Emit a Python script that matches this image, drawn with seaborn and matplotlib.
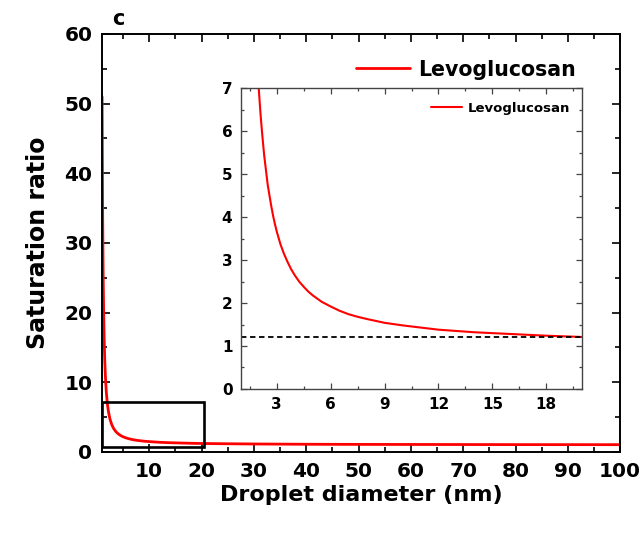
import matplotlib
matplotlib.use("Agg")
import matplotlib.pyplot as plt
from matplotlib.patches import Rectangle
from matplotlib.ticker import MultipleLocator
import pandas as pd
import seaborn as sns

# values
diameter_nm = [1.0, 1.1, 1.2, 1.3, 1.4, 1.5, 1.6, 1.7, 1.8, 1.9, 2.0, 2.1, 2.2, 2.3,
               2.4, 2.5, 2.6, 2.7, 2.8, 2.9, 3.0, 3.2, 3.4, 3.6, 3.8, 4.0, 4.25, 4.5,
               4.75, 5.0, 5.5, 6.0, 6.5, 7.0, 7.5, 8.0, 9.0, 10.0, 11.0, 12.0, 13.0,
               14.0, 16.0, 18.0, 20.0, 25.0, 30.0, 40.0, 50.0, 60.0, 70.0, 80.0,
               90.0, 100.0]
saturation = [51.0, 35.0, 25.8, 20.1, 16.2, 13.5, 11.4, 9.9, 8.7, 7.8, 7.0, 6.4, 5.9,
              5.45, 5.1, 4.75, 4.5, 4.25, 4.03, 3.84, 3.67, 3.38, 3.15, 2.96, 2.79,
              2.65, 2.5, 2.38, 2.27, 2.18, 2.03, 1.92, 1.82, 1.74, 1.68, 1.63, 1.54,
              1.48, 1.43, 1.38, 1.35, 1.32, 1.28, 1.24, 1.21, 1.17, 1.14, 1.10, 1.08,
              1.07, 1.06, 1.05, 1.045, 1.04]
series_name = "Levoglucosan"
reference_level = 1.2

df = pd.DataFrame({"d": diameter_nm, "S": saturation, "series": series_name})

sns.set_theme(style="ticks")
plt.rcParams["font.family"] = ["DejaVu Sans"]
plt.rcParams.update({
    "font.weight": "bold",
    "text.color": "black",
    "axes.labelcolor": "black",
    "xtick.color": "black",
    "ytick.color": "black",
})

fig = plt.figure(figsize=(6.42, 5.38), dpi=100)
ax = fig.add_axes([0.159, 0.160, 0.807, 0.777])

sns.lineplot(data=df, x="d", y="S", hue="series", palette=["#ff0000"],
             linewidth=2.0, ax=ax, legend=True)
ax.set_xlim(1, 100)
ax.set_ylim(0, 60)
ax.xaxis.set_minor_locator(MultipleLocator(5))
ax.yaxis.set_major_locator(MultipleLocator(10))
ax.yaxis.set_minor_locator(MultipleLocator(5))
ax.set_xticks(range(10, 101, 10))
ax.tick_params(which="both", direction="in", top=True, right=True, width=1.2)
ax.tick_params(which="major", length=6, labelsize=14.5, pad=7)
ax.tick_params(which="minor", length=3.5)
for lbl in ax.get_xticklabels() + ax.get_yticklabels():
    lbl.set_fontweight("bold")
for sp in ax.spines.values():
    sp.set_linewidth(1.4)
    sp.set_color("black")
ax.set_xlabel("Droplet diameter (nm)", fontsize=16, fontweight="bold", labelpad=3)
ax.set_ylabel("Saturation ratio", fontsize=17, fontweight="bold", labelpad=10)
ax.legend(loc="upper right", bbox_to_anchor=(0.93, 0.958), frameon=False,
          handlelength=2.6, handletextpad=0.4, borderaxespad=0.0,
          prop={"weight": "bold", "size": 14.8})
ax.text(0.175, 0.947, "c", transform=fig.transFigure, fontsize=15,
        fontweight="bold", ha="left", va="bottom")

# box marking the zoomed region
ax.add_patch(Rectangle((1, 0.65), 19.4, 6.55, fill=False, edgecolor="black",
                       linewidth=1.9, zorder=5))

# inset
ins = fig.add_axes([0.375, 0.277, 0.532, 0.559])
sns.lineplot(data=df, x="d", y="S", hue="series", palette=["#ff0000"],
             linewidth=1.5, ax=ins, legend=True)
ins.axhline(reference_level, color="black", linestyle="--", linewidth=1.3,
            dashes=(3, 2))
ins.set_xlim(1, 20)
ins.set_ylim(0, 7)
ins.xaxis.set_minor_locator(MultipleLocator(1.5))
ins.yaxis.set_major_locator(MultipleLocator(1))
ins.yaxis.set_minor_locator(MultipleLocator(0.5))
ins.set_xticks(range(3, 19, 3))
ins.tick_params(which="both", direction="in", top=True, right=True, width=0.9,
                color="#444444", labelcolor="black")
ins.tick_params(which="major", length=4, labelsize=11, pad=6)
ins.tick_params(which="minor", length=2.5)
for lbl in ins.get_xticklabels() + ins.get_yticklabels():
    lbl.set_fontweight("bold")
for sp in ins.spines.values():
    sp.set_linewidth(1.0)
    sp.set_color("#444444")
ins.set_xlabel("")
ins.set_ylabel("")
ins.legend(loc="upper right", bbox_to_anchor=(0.979, 0.973), frameon=False,
           handlelength=2.3, handletextpad=0.45, borderaxespad=0.0,
           prop={"weight": "bold", "size": 9.5})

fig.savefig("out.png", dpi=100)
